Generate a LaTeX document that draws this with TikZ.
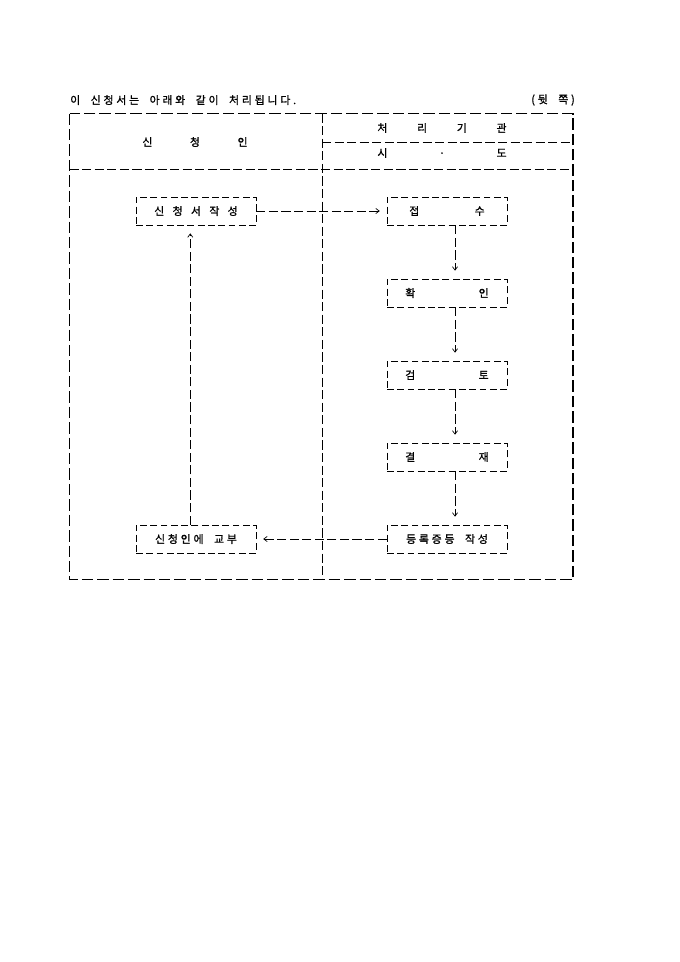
\documentclass[tikz,border=0pt]{standalone}
\usepackage{fontspec}
\setmainfont{Noto Sans CJK KR}
\newfontfamily\kr{Noto Sans CJK KR}[LetterSpace=26,WordSpace=2,FakeBold=1.2]
\usepackage{tikz}
\usetikzlibrary{arrows.meta}
\newcommand\spread[2]{\makebox[#1][s]{#2}}
\tikzstyle{frame}=[line width=1.6pt,dash pattern=on 10pt off 3.5pt]
\tikzstyle{rule}=[line width=.8pt,dash pattern=on 8pt off 3pt]
\tikzstyle{stage}=[draw,line width=.6pt,dash pattern=on 6pt off 3pt,minimum width=105pt,minimum height=24.5pt,inner sep=0pt,font=\kr\fontsize{9.5}{11}\selectfont]
\tikzstyle{flow}=[line width=.6pt,dash pattern=on 8pt off 3pt,-{Straight Barb[length=3pt,width=4.5pt]}]
\tikzstyle{head}=[font=\kr\fontsize{9.5}{11}\selectfont,inner sep=0pt]
\begin{document}
\begin{tikzpicture}[x=0.875pt,y=-0.875pt]
  \useasboundingbox (0,0) rectangle (680,962);
  \node[head,anchor=west] (title) at (70,100) {이 신청서는 아래와 같이 처리됩니다.};
  \node[head,anchor=east] (side) at (575,100) {(뒷 쪽)};
  \draw[frame] (69.5,113.5) rectangle (573,579.5);
  \draw[rule] (69.5,169) -- (573,169);
  \draw[rule] (322,142) -- (573,142);
  \draw[rule] (322,113.5) -- (322,579.5);
  \node[head] (applicant) at (195,142) {\spread{92pt}{신 청 인}};
  \node[head] (agency) at (442,128) {\spread{113pt}{처 리 기 관}};
  \node[head] (province) at (442,153) {\spread{113pt}{시 · 도}};
  \node[stage] (write) at (196,211) {\spread{73pt}{신 청 서 작 성}\hspace{8pt}};
  \node[stage] (receive) at (447,211) {\spread{66pt}{접 수}};
  \node[stage] (confirm) at (447,293) {\spread{73pt}{확 인}};
  \node[stage] (review) at (447,375) {\spread{73pt}{검 토}};
  \node[stage] (approve) at (447,457) {\spread{73pt}{결 재}};
  \node[stage] (issue) at (447,539) {등록증등 작성\hspace{6pt}};
  \node[stage] (deliver) at (196,539) {신청인에 교부};
  \draw[flow] (write.east) -- ([xshift=-6pt]receive.west);
  \draw[flow] ([xshift=7pt]receive.south) -- ([xshift=7pt,yshift=7pt]confirm.north);
  \draw[flow] ([xshift=7pt]confirm.south) -- ([xshift=7pt,yshift=7pt]review.north);
  \draw[flow] ([xshift=7pt]review.south) -- ([xshift=7pt,yshift=7pt]approve.north);
  \draw[flow] ([xshift=7pt]approve.south) -- ([xshift=7pt,yshift=7pt]issue.north);
  \draw[flow] (issue.west) -- ([xshift=6pt]deliver.east);
  \draw[flow] ([xshift=-5pt]deliver.north) -- ([xshift=-5pt,yshift=-7pt]write.south);
\end{tikzpicture}
\end{document}
